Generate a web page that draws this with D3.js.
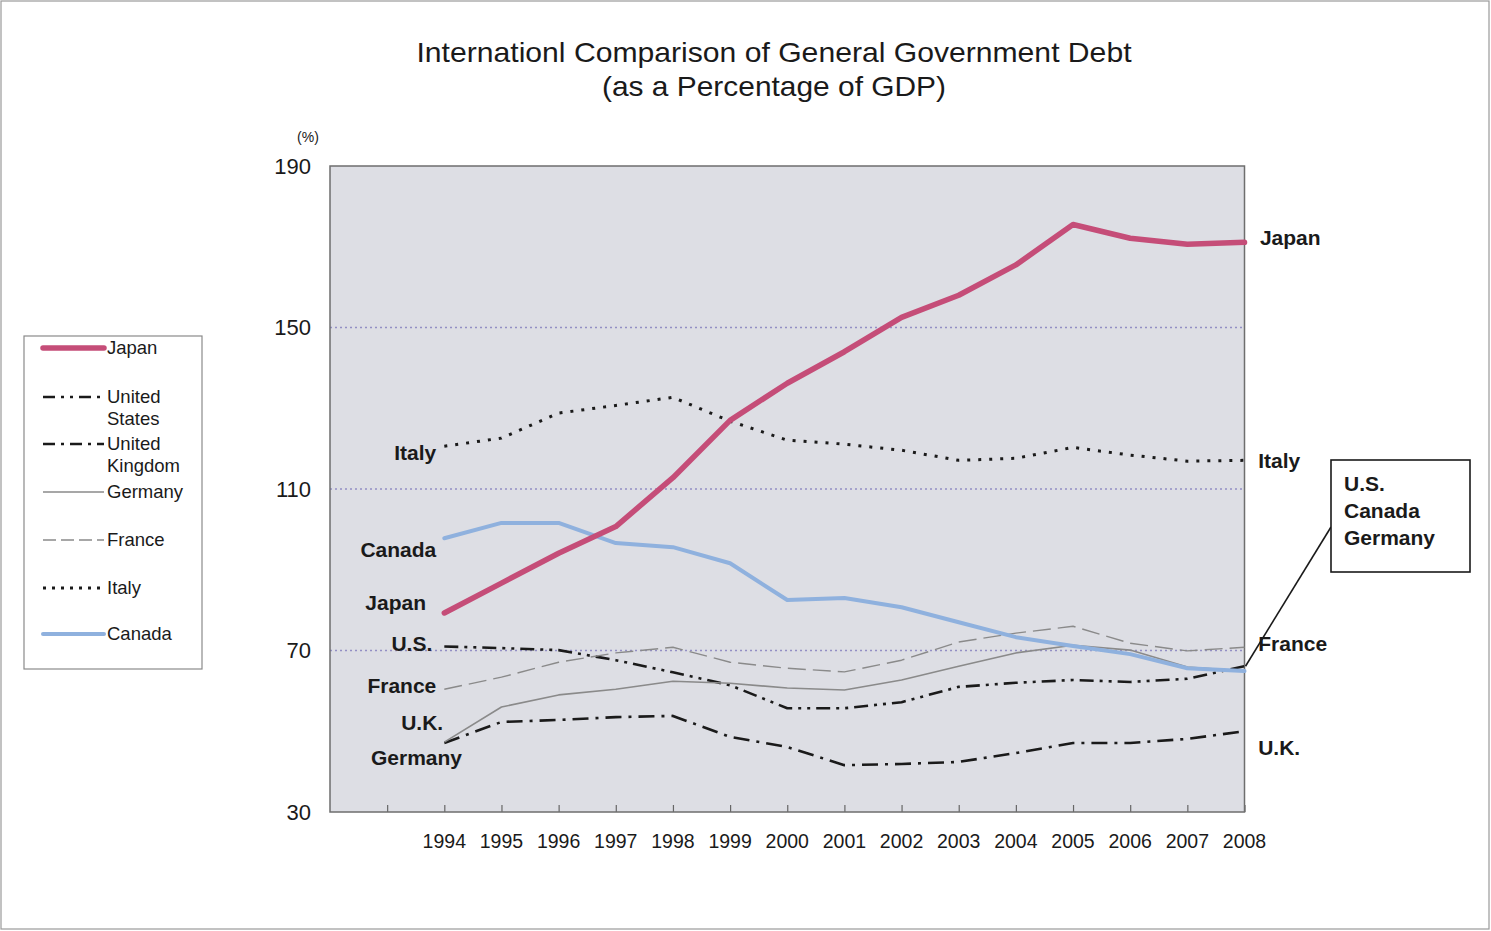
<!DOCTYPE html>
<html><head><meta charset="utf-8">
<script src="https://cdn.jsdelivr.net/npm/d3@7"></script>
<style>
html,body{margin:0;padding:0;background:#fff;}
svg{display:block;}
text{font-family:"Liberation Sans",Arial,sans-serif;fill:#1a1a1a;}
</style></head>
<body><svg id="c" width="1491" height="931"></svg>
<script>
const years = [1994,1995,1996,1997,1998,1999,2000,2001,2002,2003,2004,2005,2006,2007,2008];
const japan   = [79.3,86.7,94.1,100.7,112.8,127.0,136.2,144.0,152.5,158.0,165.5,175.5,172.1,170.6,171.1];
const unitedStates = [71.0,70.6,70.1,67.6,64.6,61.4,55.7,55.7,57.2,61.0,62.0,62.7,62.2,63.0,66.1];
const unitedKingdom = [47.1,52.3,52.8,53.5,53.8,48.6,46.1,41.6,41.9,42.4,44.6,47.1,47.1,48.1,50.0];
const germany = [47.3,56.0,59.0,60.4,62.4,61.9,60.7,60.2,62.7,66.1,69.4,71.3,70.1,65.9,64.9];
const france  = [60.4,63.4,67.1,69.4,70.8,67.1,65.6,64.7,67.6,72.1,74.3,76.0,71.8,69.9,70.8];
const italy   = [120.6,122.6,128.8,130.7,132.7,126.8,122.1,121.1,119.6,117.1,117.6,120.3,118.4,116.9,117.1];
const canada  = [97.8,101.6,101.6,96.6,95.6,91.6,82.5,83.0,80.7,77.0,73.3,71.1,69.1,65.6,64.9];
const yTicks = [30,70,110,150,190];
const gridValues = [70,110,150];
const tickYears = [1993,1994,1995,1996,1997,1998,1999,2000,2001,2002,2003,2004,2005,2006,2007,2008];
const titleLines = ["Internationl Comparison of General Government Debt","(as a Percentage of GDP)"];
const legendNames = [["Japan"],["United","States"],["United","Kingdom"],["Germany"],["France"],["Italy"],["Canada"]];
const boxNames = ["U.S.","Canada","Germany"];

const series = [
  {name:"Japan", values:japan, stroke:"#c54d78", width:5.5, dash:null, cap:"round"},
  {name:"Canada", values:canada, stroke:"#8fb1de", width:4, dash:null, cap:"round"},
  {name:"Germany", values:germany, stroke:"#8a8a8a", width:1.6, dash:null, cap:"butt"},
  {name:"France", values:france, stroke:"#8a8a8a", width:1.4, dash:"18,7", cap:"butt"},
  {name:"United States", values:unitedStates, stroke:"#1a1a1a", width:2.6, dash:"14,6,3,6,3,6", cap:"butt"},
  {name:"United Kingdom", values:unitedKingdom, stroke:"#1a1a1a", width:2.6, dash:"16,7,3,7", cap:"butt"},
  {name:"Italy", values:italy, stroke:"#1a1a1a", width:3, dash:"3,8", cap:"butt"}
];

const svg = d3.select("#c");
// page frame
svg.append("rect").attr("x",1).attr("y",1).attr("width",1488).attr("height",928)
  .attr("fill","none").attr("stroke","#9a9a9a").attr("stroke-width",1.2);

const L=330, R=1244.5, T=166, B=812;
const x = d3.scaleLinear().domain([1992,2008]).range([L,R]);
const y = d3.scaleLinear().domain([30,190]).range([B,T]);

svg.append("rect").attr("x",L).attr("y",T).attr("width",R-L).attr("height",B-T)
  .attr("fill","#dddee4");

// gridlines
svg.append("g").selectAll("line").data(gridValues).join("line")
  .attr("x1",L).attr("x2",R).attr("y1",d=>y(d)).attr("y2",d=>y(d))
  .attr("stroke","#938fc4").attr("stroke-width",1.3).attr("stroke-dasharray","2,3");

// bottom ticks (inside)
const xAxis = d3.axisBottom(x).tickValues(tickYears).tickSize(-7).tickFormat("");
const gx = svg.append("g").attr("transform",`translate(0,${B})`).call(xAxis);
gx.select(".domain").remove();
gx.selectAll("line").attr("stroke","#666").attr("stroke-width",1.2);

// year labels
svg.append("g").selectAll("text").data(years).join("text")
  .attr("x",d=>x(d)).attr("y",848).attr("text-anchor","middle")
  .style("font-size","19.5px").text(d=>d);

// y labels
const yAxis = d3.axisLeft(y).tickValues(yTicks).tickSize(0).tickPadding(19);
const gy = svg.append("g").attr("transform",`translate(${L},0)`).call(yAxis);
gy.select(".domain").remove();
gy.selectAll("text").style("font-size","22px").style("font-family","'Liberation Sans',Arial,sans-serif").attr("fill","#1a1a1a");
svg.append("text").attr("x",308).attr("y",142).attr("text-anchor","middle")
  .style("font-size","14px").text("(%)");

// plot border
svg.append("rect").attr("x",L).attr("y",T).attr("width",R-L).attr("height",B-T)
  .attr("fill","none").attr("stroke","#6e6e6e").attr("stroke-width",1.5);

// lines
const line = d3.line().x((d,i)=>x(years[i])).y(d=>y(d));
svg.append("g").selectAll("path").data(series.slice().reverse()).join("path")
  .attr("d",d=>line(d.values)).attr("fill","none")
  .attr("stroke",d=>d.stroke).attr("stroke-width",d=>d.width)
  .attr("stroke-dasharray",d=>d.dash).attr("stroke-linecap",d=>d.cap)
  .attr("stroke-linejoin","round");

// title
const titleLen = [715, 344];
svg.append("g").selectAll("text").data(titleLines).join("text")
  .attr("x",774).attr("y",(d,i)=>62+i*34).attr("text-anchor","middle")
  .attr("textLength",(d,i)=>titleLen[i]).attr("lengthAdjust","spacingAndGlyphs")
  .style("font-size","28px").text(d=>d);

// series labels (positions in data coordinates)
const labels = [
  {t:"Italy", yr:1993.86, v:119.1, a:"end"},
  {t:"Canada", yr:1993.86, v:95.1, a:"end"},
  {t:"Japan", yr:1993.68, v:82.0, a:"end"},
  {t:"U.S.", yr:1993.79, v:71.8, a:"end"},
  {t:"France", yr:1993.86, v:61.4, a:"end"},
  {t:"U.K.", yr:1993.98, v:52.3, a:"end"},
  {t:"Germany", yr:1994.31, v:43.6, a:"end"},
  {t:"Japan", yr:2008.27, v:172.3, a:"start"},
  {t:"Italy", yr:2008.24, v:117.1, a:"start"},
  {t:"France", yr:2008.24, v:71.8, a:"start"},
  {t:"U.K.", yr:2008.24, v:46.1, a:"start"}
];
svg.append("g").selectAll("text").data(labels).join("text")
  .attr("x",d=>x(d.yr)).attr("y",d=>y(d.v)).attr("dy","0.36em")
  .attr("text-anchor",d=>d.a).style("font-size","21px").style("font-weight","bold")
  .text(d=>d.t);

// callout box
svg.append("line").attr("x1",x(2008)+1).attr("y1",y(66.1)).attr("x2",1331).attr("y2",527)
  .attr("stroke","#1a1a1a").attr("stroke-width",1.6);
svg.append("rect").attr("x",1331).attr("y",460).attr("width",139).attr("height",112)
  .attr("fill","#fff").attr("stroke","#1a1a1a").attr("stroke-width",1.6);
svg.append("g").selectAll("text").data(boxNames).join("text")
  .attr("x",1344).attr("y",(d,i)=>491+i*27).style("font-size","21px").style("font-weight","bold")
  .text(d=>d);

// legend
const lg = svg.append("g");
lg.append("rect").attr("x",24).attr("y",336).attr("width",178).attr("height",333)
  .attr("fill","#fff").attr("stroke","#8a8a8a").attr("stroke-width",1.2);
const legendY = [348,397,444,492,540,588,634];
const legendSeries = ["Japan","United States","United Kingdom","Germany","France","Italy","Canada"]
  .map(n=>series.find(s=>s.name===n));
legendSeries.forEach((s,i)=>{
  const ly = legendY[i];
  lg.append("line").attr("x1",43).attr("x2",104).attr("y1",ly).attr("y2",ly)
    .attr("stroke",s.stroke).attr("stroke-width",s.width).attr("stroke-linecap",s.cap)
    .attr("stroke-dasharray",s.name==="Italy"?"3,6":(s.name==="France"?"13,5":(s.name==="United States"?"12,6,3,6,3,6":(s.name==="United Kingdom"?"12,6,3,6":null))));
  legendNames[i].forEach((t,j)=>{
    lg.append("text").attr("x",107).attr("y",ly+6+j*22).style("font-size","18.5px").text(t);
  });
});
</script></body></html>
